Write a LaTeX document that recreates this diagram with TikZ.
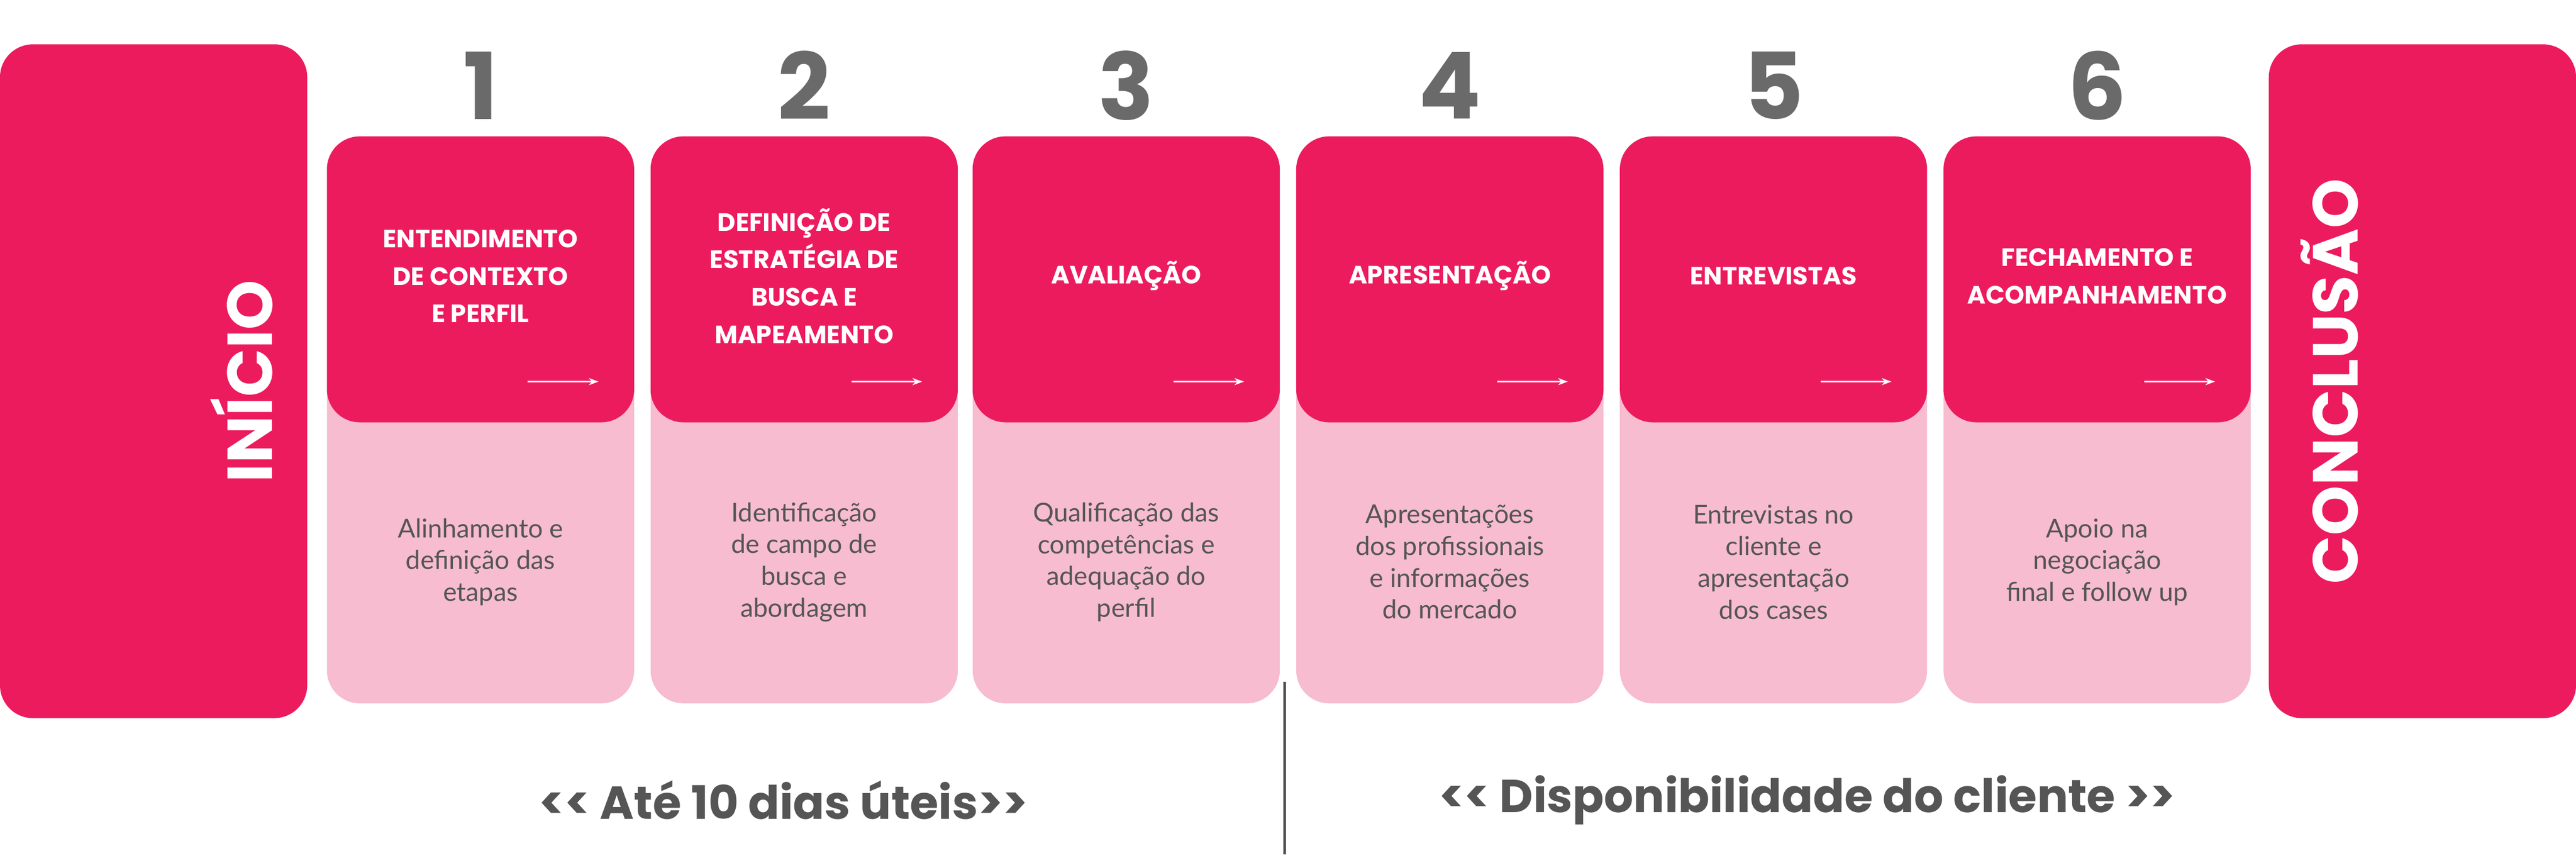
\documentclass[tikz,border=0pt]{standalone}
\usepackage{fontspec}
\setmainfont{Lato}
\newfontfamily\headfont{Poppins}
\usetikzlibrary{positioning,calc,arrows.meta}
\definecolor{hotpink}{HTML}{EC1B5E}
\definecolor{softpink}{HTML}{F7BCCF}
\definecolor{numgray}{HTML}{6A6A6A}
\definecolor{txtgray}{HTML}{555555}
\tikzset{
  endbox/.style={fill=hotpink, rounded corners=0.6cm, minimum width=5.61cm, minimum height=12.3cm, inner sep=0},
  topbox/.style={fill=hotpink, rounded corners=0.6cm, minimum width=5.61cm, minimum height=5.22cm, inner sep=0},
  basebox/.style={fill=softpink, rounded corners=0.6cm, minimum width=5.61cm, minimum height=10.35cm, inner sep=0},
  steptitle/.style={text=white, align=center, font=\headfont\bfseries\fontsize{13}{19.5}\selectfont},
  stepdesc/.style={text=txtgray, align=center, font=\fontsize{13.5}{16.5}\selectfont},
  stepnum/.style={text=numgray, font=\headfont\bfseries\fontsize{48}{48}\selectfont},
  phase/.style={text=txtgray, font=\headfont\bfseries\fontsize{24}{24}\selectfont}
}
\begin{document}
\begin{tikzpicture}[x=0.03cm, y=-0.03cm]
    \useasboundingbox (0,0) rectangle (1568,522);

    % Start and end
    \node[endbox] (start) at (93.5,232) {};
    \node[text=white, rotate=90, font=\headfont\bfseries\fontsize{33}{33}\selectfont] (startlbl) at (147,232) {INÍCIO};
    \node[endbox] (finish) at (1474.5,232) {};
    \node[text=white, rotate=90, font=\headfont\bfseries\fontsize{33}{33}\selectfont] (finishlbl) at (1418,232) {CONCLUSÃO};

    % Steps
    \foreach \i/\x/\ttl/\dsc in {
        1/292.5/{ENTENDIMENTO\\DE CONTEXTO\\E PERFIL}/{Alinhamento e\\definição das\\etapas},
        2/489.5/{DEFINIÇÃO DE\\ESTRATÉGIA DE\\BUSCA E\\MAPEAMENTO}/{Identificação\\de campo de\\busca e\\abordagem},
        3/685.5/{AVALIAÇÃO}/{Qualificação das\\competências e\\adequação do\\perfil},
        4/882.5/{APRESENTAÇÃO}/{Apresentações\\dos profissionais\\e informações\\do mercado},
        5/1079.5/{ENTREVISTAS}/{Entrevistas no\\cliente e\\apresentação\\dos cases},
        6/1276.5/{FECHAMENTO E\\ACOMPANHAMENTO}/{Apoio na\\negociação\\final e follow up}} {
        \node[basebox] (base\i) at (\x,255.5) {};
        \node[topbox] (top\i) at (\x,170) {};
        \node[stepnum] (num\i) at (\x,52) {\i};
        \node[steptitle] (ttl\i) at ($(top\i.center)+(0,-2)$) {\ttl};
        \node[stepdesc] (dsc\i) at ($(\x,342)$) {\dsc};
        \coordinate (arr\i a) at ($(top\i.south east)+(-65,-25)$);
        \coordinate (arr\i b) at ($(top\i.south east)+(-22,-25)$);
        \draw[white, line width=0.6pt, -{Stealth[length=5pt]}] (arr\i a) -- (arr\i b);
    }

    % Phases
    \coordinate (splittop) at (782,415);
    \coordinate (splitbot) at (782,520);
    \draw[numgray!70!black, line width=1.2pt] (splittop) -- (splitbot);
    \node[phase] (phase1) at (477,487) {<< Até 10 dias úteis>>};
    \node[phase] (phase2) at (1100,487) {<< Disponibilidade do cliente >>};
\end{tikzpicture}
\end{document}
